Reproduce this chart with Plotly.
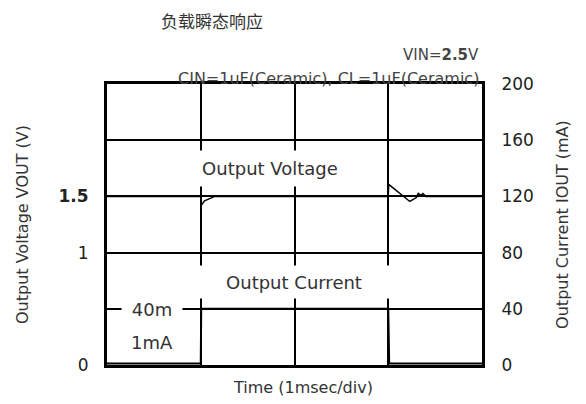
import plotly.graph_objects as go

# ---- data ----
t_voltage = [0, 1.0, 1.005, 1.04, 1.15, 3.0, 3.005, 3.23, 3.30, 3.32, 3.35, 3.37, 3.40, 4.0]
v_out = [1.5, 1.5, 1.42, 1.46, 1.5, 1.5, 1.607, 1.455, 1.49, 1.527, 1.509, 1.525, 1.5, 1.5]

t_current = [0, 1.0, 1.005, 3.0, 3.01, 4.0]
i_out = [1, 1, 40, 40, 1, 1]

left_tickvals = [0, 1, 1.5]
left_ticktext = ["0", "1", "<b>1.5</b>"]
right_tickvals = [0, 40, 80, 120, 160, 200]

FONT = "DejaVu Sans"
TXT = "#222"

# page body has an 8px margin; figure is sized/offset to compensate
W, H, OFF = 578, 396, 8

fig = go.Figure()
fig.add_trace(go.Scatter(x=t_voltage, y=v_out, mode="lines",
                         line=dict(color="black", width=1.5), yaxis="y",
                         showlegend=False, hoverinfo="skip"))
fig.add_trace(go.Scatter(x=t_current, y=i_out, mode="lines",
                         line=dict(color="black", width=2), yaxis="y2",
                         showlegend=False, hoverinfo="skip"))

fig.update_layout(
    width=W, height=H,
    margin=dict(l=107 - OFF, r=W - (482 - OFF), t=84 - OFF, b=H - (365 - OFF)),
    paper_bgcolor="white", plot_bgcolor="white",
    font=dict(family=FONT, color=TXT),
    title=dict(text="负载瞬态响应", x=(161 - OFF) / W, xanchor="left", xref="container",
               y=1 - (22 - OFF) / H, yanchor="middle", yref="container",
               font=dict(family="Noto Sans CJK SC", size=17, color="#333")),
    xaxis=dict(range=[0, 4], dtick=1, showgrid=True, gridcolor="black", gridwidth=1.5,
               showticklabels=False, ticks="", showline=True, mirror=True,
               linecolor="black", linewidth=3, zeroline=False, fixedrange=True),
    yaxis=dict(range=[0, 2.5], tickvals=left_tickvals, ticktext=left_ticktext,
               showgrid=False, zeroline=False, showline=True, linecolor="black", linewidth=3,
               ticks="outside", ticklen=12, tickcolor="rgba(0,0,0,0)",
               tickfont=dict(size=17, color=TXT),
               title=dict(text="Output Voltage VOUT (V)", standoff=26,
                          font=dict(size=16, color="#333"))),
    yaxis2=dict(range=[0, 200], tickvals=right_tickvals, overlaying="y", side="right",
                showgrid=True, gridcolor="black", gridwidth=1.5, zeroline=False,
                showline=True, linecolor="black", linewidth=3,
                ticks="outside", ticklen=13, tickcolor="rgba(0,0,0,0)",
                tickfont=dict(size=17, color=TXT),
                title=dict(text="Output Current IOUT (mA)", standoff=24,
                           font=dict(size=16, color="#333"))),
)

annotations = [
    dict(text="Time (1msec/div)", xref="paper", yref="paper", x=(303 - 107) / 375,
         y=(365 - 387) / 281, showarrow=False, xanchor="center", yanchor="middle",
         font=dict(size=16, color="#333")),
    dict(text="VIN=<b>2.5</b>V", xref="paper", yref="paper", x=(481 - 107) / 375,
         y=(365 - 55) / 281, showarrow=False, xanchor="right", yanchor="middle",
         font=dict(size=15, color="#444")),
    dict(text="CIN=1uF(Ceramic), CL=1uF(Ceramic)", xref="paper", yref="paper",
         x=(481 - 107) / 375, y=(365 - 78) / 281, showarrow=False, xanchor="right",
         yanchor="middle", font=dict(size=16, color="#444")),
    dict(text="Output Voltage", xref="x", yref="y2", x=(270 - 107) / 93.75,
         y=(365 - 168) / 1.405, showarrow=False, bgcolor="white", width=160, height=33,
         font=dict(size=18, color="#333")),
    dict(text="Output Current", xref="x", yref="y2", x=(294 - 107) / 93.75,
         y=(365 - 282) / 1.405, showarrow=False, bgcolor="white", width=196, height=30,
         font=dict(size=18, color="#333")),
    dict(text="40m", xref="x", yref="y2", x=(152 - 107) / 93.75, y=40,
         showarrow=False, bgcolor="white", width=58, height=20,
         font=dict(size=18, color="#333")),
    dict(text="1mA", xref="x", yref="y2", x=(152 - 107) / 93.75, y=(365 - 342) / 1.405,
         showarrow=False, font=dict(size=18, color="#333")),
]
fig.update_layout(annotations=annotations)

fig.write_html("out.html")
